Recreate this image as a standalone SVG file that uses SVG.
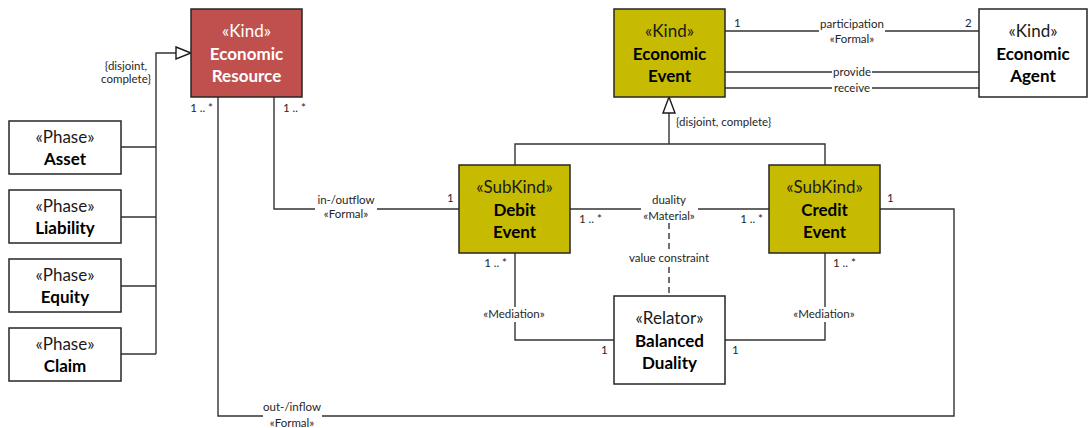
<svg xmlns="http://www.w3.org/2000/svg" width="1088" height="428" viewBox="0 0 1088 428">
  <style>
    .box { stroke: #262626; stroke-width: 1.5; }
    .white { fill: #ffffff; }
    .red { fill: #c0504d; }
    .olive { fill: #c6bb00; }
    .st { font-family: Lato, "Liberation Sans", sans-serif; font-size: 17px; fill: #1a1a1a; text-anchor: middle; }
    .nm { font-family: Lato, "Liberation Sans", sans-serif; font-size: 17px; font-weight: bold; fill: #000000; text-anchor: middle; }
    .inv { fill: #ffffff; }
    .lbl { font-family: Lato, "Liberation Sans", sans-serif; font-size: 11.5px; fill: #262626; }
    .mid { text-anchor: middle; }
    .end { text-anchor: end; }
    .ln { fill: none; stroke: #333333; stroke-width: 1.4; }
    .dash { stroke-dasharray: 6 4; }
    .tri { fill: #ffffff; stroke: #1a1a1a; stroke-width: 1.4; }
  </style>

  <!-- connectors -->
  <g id="connectors">
    <!-- generalization set: phases of Economic Resource -->
    <path class="ln" d="M121,147 H156 M121,217 H156 M121,286 H156 M121,354 H156 M156,354 V53 H176"/>
    <polygon class="tri" points="176,47 191,53 176,59"/>
    <!-- generalization set: debit / credit events -->
    <path class="ln" d="M515,165 V144 H825 V165 M669,144 V113"/>
    <polygon class="tri" points="663,113 669,97 675,113"/>
    <!-- participation, provide, receive -->
    <path class="ln" d="M725,31 H819 M885,31 H979"/>
    <path class="ln" d="M725,72 H832 M872,72 H979"/>
    <path class="ln" d="M725,88 H832 M872,88 H979"/>
    <!-- in-/outflow -->
    <path class="ln" d="M274,97 V209 H315 M377,209 H459"/>
    <!-- out-/inflow -->
    <path class="ln" d="M218,97 V416 H263 M322,416 H954 V209 H880"/>
    <!-- duality -->
    <path class="ln" d="M570,209 H641 M698,209 H769"/>
    <!-- value constraint -->
    <path class="ln dash" d="M669,223 V250 M669,267 V296"/>
    <!-- mediations -->
    <path class="ln" d="M515,253 V307 M515,322 V340 H614"/>
    <path class="ln" d="M825,253 V307 M825,322 V340 H725"/>

    <!-- connector labels -->
    <text class="lbl mid" x="126" y="70">{disjoint,</text>
    <text class="lbl mid" x="126" y="83">complete}</text>
    <text class="lbl" x="676" y="126">{disjoint, complete}</text>

    <text class="lbl" x="734" y="27">1</text>
    <text class="lbl" x="965" y="27">2</text>
    <text class="lbl mid" x="852" y="28">participation</text>
    <text class="lbl mid" x="852" y="43">«Formal»</text>
    <text class="lbl mid" x="852" y="76">provide</text>
    <text class="lbl mid" x="852" y="92">receive</text>

    <text class="lbl end" x="213" y="112">1 .. *</text>
    <text class="lbl" x="283" y="112">1 .. *</text>

    <text class="lbl mid" x="346" y="204">in-/outflow</text>
    <text class="lbl mid" x="346" y="218">«Formal»</text>
    <text class="lbl" x="447" y="202">1</text>

    <text class="lbl mid" x="292" y="411">out-/inflow</text>
    <text class="lbl mid" x="292" y="427">«Formal»</text>
    <text class="lbl" x="887" y="202">1</text>

    <text class="lbl mid" x="669" y="204">duality</text>
    <text class="lbl mid" x="669" y="220">«Material»</text>
    <text class="lbl" x="579" y="223">1 .. *</text>
    <text class="lbl end" x="763" y="223">1 .. *</text>
    <text class="lbl mid" x="669" y="262">value constraint</text>

    <text class="lbl end" x="507" y="267">1 .. *</text>
    <text class="lbl mid" x="514" y="318">«Mediation»</text>
    <text class="lbl" x="601" y="354">1</text>
    <text class="lbl" x="833" y="267">1 .. *</text>
    <text class="lbl mid" x="824" y="318">«Mediation»</text>
    <text class="lbl" x="732" y="354">1</text>
  </g>

  <!-- nodes -->
  <g id="economic-resource">
    <rect class="box red" x="191" y="9" width="111" height="88"/>
    <text class="st inv" x="246.5" y="37">«Kind»</text>
    <text class="nm inv" x="246.5" y="59.5">Economic</text>
    <text class="nm inv" x="246.5" y="82">Resource</text>
  </g>

  <g id="asset">
    <rect class="box white" x="9" y="121" width="112" height="53"/>
    <text class="st" x="65" y="143">«Phase»</text>
    <text class="nm" x="65" y="165">Asset</text>
  </g>

  <g id="liability">
    <rect class="box white" x="9" y="190" width="112" height="53"/>
    <text class="st" x="65" y="212">«Phase»</text>
    <text class="nm" x="65" y="234">Liability</text>
  </g>

  <g id="equity">
    <rect class="box white" x="9" y="259" width="112" height="53"/>
    <text class="st" x="65" y="281">«Phase»</text>
    <text class="nm" x="65" y="303">Equity</text>
  </g>

  <g id="claim">
    <rect class="box white" x="9" y="328" width="112" height="53"/>
    <text class="st" x="65" y="350">«Phase»</text>
    <text class="nm" x="65" y="372">Claim</text>
  </g>

  <g id="economic-event">
    <rect class="box olive" x="614" y="9" width="111" height="88"/>
    <text class="st" x="669.5" y="37">«Kind»</text>
    <text class="nm" x="669.5" y="59.5">Economic</text>
    <text class="nm" x="669.5" y="82">Event</text>
  </g>

  <g id="economic-agent">
    <rect class="box white" x="979" y="9" width="108" height="88"/>
    <text class="st" x="1033" y="37">«Kind»</text>
    <text class="nm" x="1033" y="59.5">Economic</text>
    <text class="nm" x="1033" y="82">Agent</text>
  </g>

  <g id="debit-event">
    <rect class="box olive" x="459" y="165" width="111" height="88"/>
    <text class="st" x="514.5" y="193">«SubKind»</text>
    <text class="nm" x="514.5" y="215.5">Debit</text>
    <text class="nm" x="514.5" y="238">Event</text>
  </g>

  <g id="credit-event">
    <rect class="box olive" x="769" y="165" width="111" height="88"/>
    <text class="st" x="824.5" y="193">«SubKind»</text>
    <text class="nm" x="824.5" y="215.5">Credit</text>
    <text class="nm" x="824.5" y="238">Event</text>
  </g>

  <g id="balanced-duality">
    <rect class="box white" x="614" y="296" width="111" height="88"/>
    <text class="st" x="669.5" y="324">«Relator»</text>
    <text class="nm" x="669.5" y="346.5">Balanced</text>
    <text class="nm" x="669.5" y="369">Duality</text>
  </g>
</svg>
